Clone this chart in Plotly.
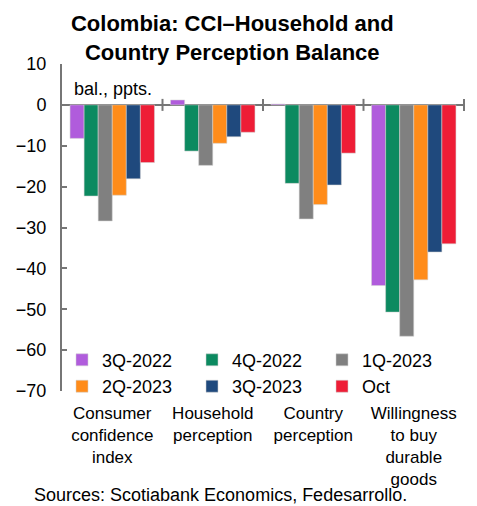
import plotly.graph_objects as go

# Categories and series (balance, percentage points)
categories = [
    "Consumer<br>confidence<br>index",
    "Household<br>perception",
    "Country<br>perception",
    "Willingness<br>to buy<br>durable<br>goods",
]
series_names = ["3Q-2022", "4Q-2022", "1Q-2023", "2Q-2023", "3Q-2023", "Oct"]
q3_2022 = [-8.2, 1.2, 0.2, -44.2]
q4_2022 = [-22.3, -11.3, -19.2, -50.7]
q1_2023 = [-28.4, -14.8, -27.9, -56.6]
q2_2023 = [-22.1, -9.4, -24.4, -42.8]
q3_2023 = [-18.1, -7.8, -19.6, -36.0]
oct_2023 = [-14.1, -6.7, -11.8, -34.0]
series_values = [q3_2022, q4_2022, q1_2023, q2_2023, q3_2023, oct_2023]
colors = ["#B05CDC", "#0C8A60", "#808080", "#FF8C1A", "#1F497D", "#EE1D36"]

y_ticks = [10, 0, -10, -20, -30, -40, -50, -60, -70]

AXIS = "#767676"
FONT = "Liberation Sans, Arial, sans-serif"

fig = go.Figure()
for name, vals, col in zip(series_names, series_values, colors):
    fig.add_trace(go.Bar(
        name=name, x=categories, y=vals,
        marker=dict(color=col, line=dict(color="rgba(210,210,210,0.9)", width=0.6)),
    ))

# Short crossing ticks on the zero line at the category boundaries
for i in range(len(categories)):
    fig.add_shape(type="line", xref="x", yref="y", x0=i + 0.5, x1=i + 0.5,
                  ysizemode="pixel", yanchor=0, y0=-6, y1=6,
                  line=dict(color=AXIS, width=2))

fig.add_annotation(text="bal., ppts.", xref="paper", yref="y", x=0.025, y=4,
                   xanchor="left", yanchor="middle", showarrow=False,
                   font=dict(size=18, color="#000000", family=FONT))
fig.add_annotation(text="Sources: Scotiabank Economics, Fedesarrollo.",
                   xref="paper", yref="paper", x=-0.075, y=-0.319,
                   xanchor="left", yanchor="middle", showarrow=False,
                   font=dict(size=18, color="#000000", family=FONT))

fig.update_layout(
    width=477, height=506,
    margin=dict(l=62, r=12, t=64, b=115, autoexpand=False),
    paper_bgcolor="white", plot_bgcolor="white",
    font=dict(family=FONT, size=18, color="#000000"),
    title=dict(text="<b>Colombia: CCI–Household and<br>Country Perception Balance</b>",
               x=0.487, xref="container", xanchor="center",
               y=0.938, yref="container", yanchor="top",
               font=dict(size=22, family=FONT, color="#000000")),
    barmode="group", bargap=0.16, bargroupgap=0,
    showlegend=True,
    legend=dict(orientation="h", x=0, y=0.151, xanchor="left", yanchor="top",
                entrywidth=85, entrywidthmode="pixels", traceorder="normal",
                bgcolor="rgba(0,0,0,0)", font=dict(size=18, family=FONT),
                itemwidth=30, tracegroupgap=0),
    xaxis=dict(showline=False, ticks="", showgrid=False, zeroline=False,
               automargin=False,
               tickfont=dict(size=17, family=FONT), ticklabelstandoff=10),
    yaxis=dict(range=[-70, 10], tickvals=y_ticks, showgrid=False,
               automargin=False,
               showline=True, linecolor=AXIS, linewidth=2,
               ticks="inside", ticklen=5, tickwidth=2, tickcolor=AXIS,
               zeroline=True, zerolinecolor=AXIS, zerolinewidth=2,
               tickfont=dict(size=18, family=FONT), ticklabelstandoff=10),
)

fig.write_html("out.html")
